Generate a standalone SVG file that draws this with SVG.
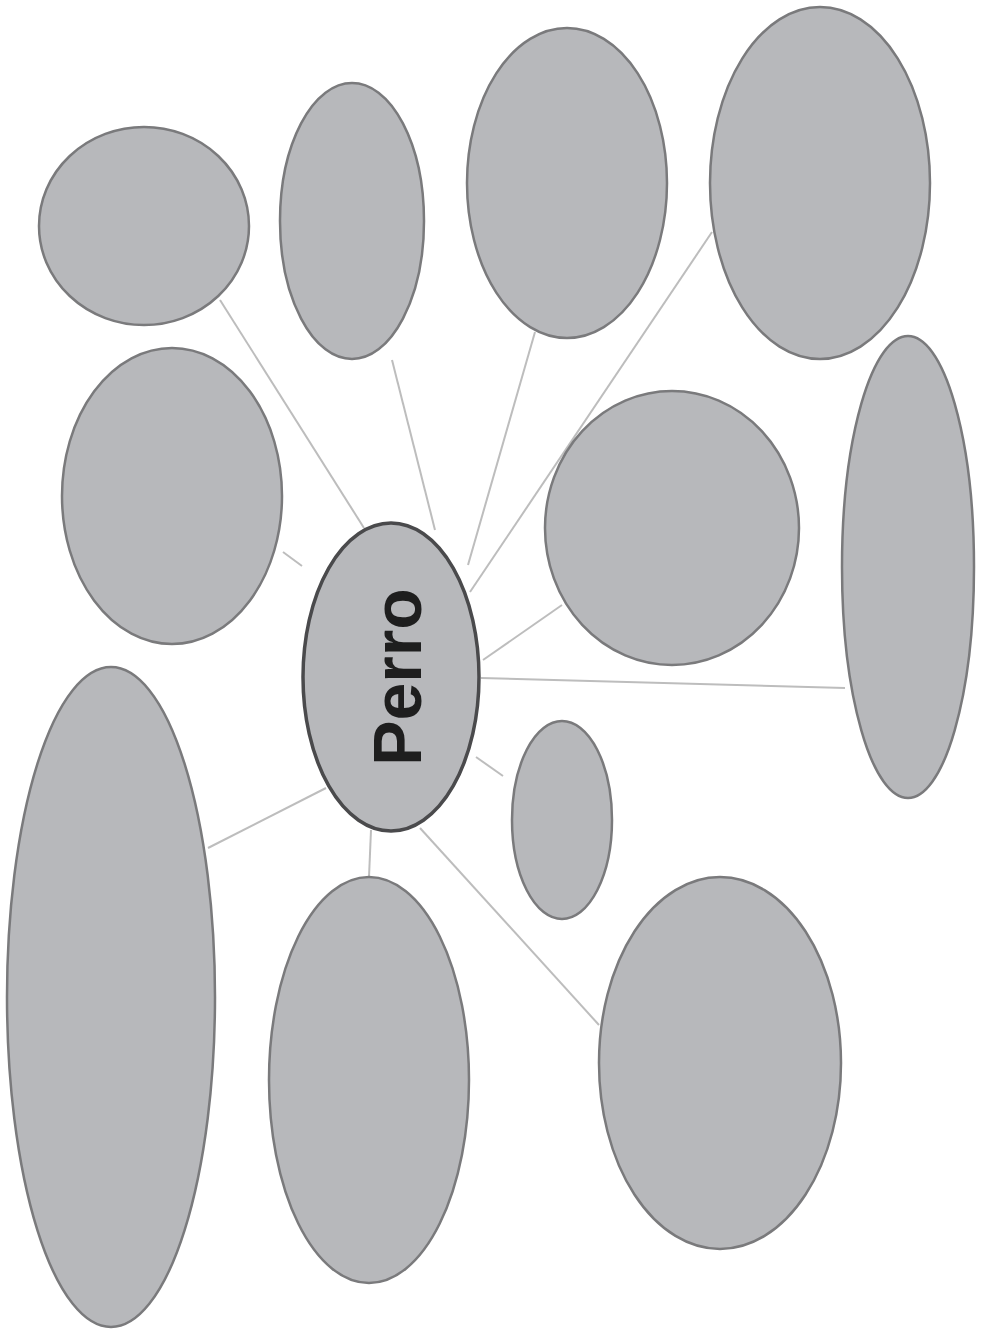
<svg xmlns="http://www.w3.org/2000/svg" width="982" height="1330" viewBox="0 0 982 1330">
<style>
.n{fill:#b7b8bb;stroke:#7a7a7c;stroke-width:2.5}
.c{fill:#b7b8bb;stroke:#4a4a4c;stroke-width:3.5}
.l{stroke:#bdbdbd;stroke-width:2;fill:none}
.t{font-family:"Liberation Sans",Arial,sans-serif;font-weight:bold;font-size:68px;fill:#1e1e1e}
</style>
<rect width="982" height="1330" fill="#ffffff"/>
<g id="connectors">
<line class="l" x1="220" y1="300" x2="364" y2="528"/>
<line class="l" x1="392" y1="360" x2="435" y2="530"/>
<line class="l" x1="535" y1="332" x2="468" y2="565"/>
<line class="l" x1="712" y1="232" x2="470" y2="592"/>
<line class="l" x1="283" y1="552" x2="302" y2="566"/>
<line class="l" x1="562" y1="605" x2="483" y2="660"/>
<line class="l" x1="481" y1="678" x2="845" y2="688"/>
<line class="l" x1="476" y1="757" x2="503" y2="776"/>
<line class="l" x1="208" y1="848" x2="326" y2="788"/>
<line class="l" x1="371" y1="830" x2="369" y2="877"/>
<line class="l" x1="420" y1="828" x2="599" y2="1025"/>
</g>
<g id="n1"><ellipse class="n" cx="144" cy="226" rx="105" ry="99"/></g>
<g id="n2"><ellipse class="n" cx="352" cy="221" rx="72" ry="138"/></g>
<g id="n3"><ellipse class="n" cx="567" cy="183" rx="100" ry="155"/></g>
<g id="n4"><ellipse class="n" cx="820" cy="183" rx="110" ry="176"/></g>
<g id="n5"><ellipse class="n" cx="172" cy="496" rx="110" ry="148"/></g>
<g id="n6"><ellipse class="n" cx="672" cy="528" rx="127" ry="137"/></g>
<g id="n7"><ellipse class="n" cx="908" cy="567" rx="66" ry="231"/></g>
<g id="n9"><ellipse class="n" cx="562" cy="820" rx="50" ry="99"/></g>
<g id="n10"><ellipse class="n" cx="111" cy="997" rx="104" ry="330"/></g>
<g id="n11"><ellipse class="n" cx="369" cy="1080" rx="100" ry="203"/></g>
<g id="n12"><ellipse class="n" cx="720" cy="1063" rx="121" ry="186"/></g>
<g id="center">
<ellipse class="c" cx="391" cy="677" rx="88" ry="154"/>
<text class="t" transform="translate(421,677) rotate(-90)" text-anchor="middle">Perro</text>
</g>
</svg>
